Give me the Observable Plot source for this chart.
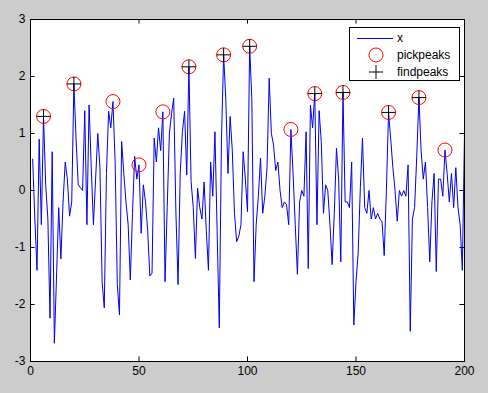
<!DOCTYPE html>
<html><head><meta charset="utf-8">
<script src="https://cdn.jsdelivr.net/npm/d3@7"></script>
<script src="https://cdn.jsdelivr.net/npm/@observablehq/plot@0.6"></script>
<style>
html,body{margin:0;padding:0;background:#cccccc;}
#chart{position:relative;width:488px;height:393px;}
</style></head><body><div id="chart"></div>
<script>
const xValues = [
 0.55,-0.5,-1.4,0.9,-0.6,1.3,0.1,-0.5,-2.24,0.68,-2.68,-1.5,-0.3,-1.2,-0.2,0.5,0.2,-0.45,-0.2,1.87,0.9,0.1,0.05,0.0,1.4,-0.6,1.5,0.4,-0.6,0.2,1.0,0.4,-1.6,-2.06,
 0.3,1.39,1.1,1.56,0.5,-1.65,-2.18,0.86,0.3,-0.2,-0.6,-1.57,-0.4,0.6,0.2,0.45,-0.75,0.1,-0.2,-0.7,-1.5,-1.45,0.92,0.5,1.1,0.7,1.38,-1.6,-0.3,1.0,1.35,1.62,
 -0.37,-1.65,0.3,1.03,1.39,0.27,2.17,0.16,-0.3,-1.19,0.04,-0.3,-0.5,0.15,-0.7,-1.4,0.5,-0.1,1.03,-0.7,-2.41,0.9,2.38,1.6,0.3,1.3,0.7,-0.4,-0.9,-0.8,-0.6,0.68,0.2,-0.37,2.53,
 1.6,-1.6,-0.6,-0.1,0.57,-0.4,-0.1,0.4,1.97,1.0,0.8,0.35,0.5,0.0,-0.3,-0.2,-0.25,-0.6,1.07,0.3,-0.6,-1.47,-0.2,0.0,-0.1,1.03,-1.37,1.5,1.1,1.7,-0.6,
 1.4,0.86,-0.4,0.1,0.0,-0.6,-1.3,-0.4,0.74,0.2,-1.25,1.72,-0.2,-0.2,-0.3,0.5,-2.36,-1.6,-1.1,0.05,0.92,-0.3,-0.4,0.0,-0.5,-0.3,-0.5,-0.4,-0.5,-0.55,-1.14,0.0,1.37,
 0.9,0.4,0.0,-0.54,0.0,-0.1,0.0,-0.1,0.45,-2.47,-0.5,-0.3,0.6,1.63,0.7,0.2,0.5,-0.3,-1.25,-0.2,0.3,-1.42,0.2,0.2,-0.1,0.71,0.3,-0.2,0.3,-0.3,0.4,-0.3,-0.6,-1.4,1.0
];
const pickIdx = [6,20,38,50,61,73,89,101,120,131,144,165,179,191];
const findIdx = [6,20,73,89,101,131,144,165,179];
const xTicks = [0,50,100,150,200];
const yTicks = [-3,-2,-1,0,1,2,3];
const legendLabels = ["x","pickpeaks","findpeaks"];

const series = xValues.map((v,i)=>({t:i+1, v}));
const pick = pickIdx.map(t=>({t, v:xValues[t-1]}));
const find = findIdx.map(t=>({t, v:xValues[t-1]}));

const crossSymbol = {draw(ctx,size){const r=Math.sqrt(size/Math.PI); ctx.moveTo(-r,0);ctx.lineTo(r,0);ctx.moveTo(0,-r);ctx.lineTo(0,r);}};

const tx = 2.1, ty = 0.08;
const font = "'Liberation Sans', Arial, Helvetica, sans-serif";
const plot = Plot.plot({
  width:488, height:393, marginLeft:30, marginRight:24, marginTop:19, marginBottom:32,
  style:{background:"#cccccc", fontFamily:font, fontSize:"12px", color:"black"},
  x:{domain:[0,200]}, y:{domain:[-3,3]},
  marks:[
    Plot.frame({fill:"white", stroke:null}),
    Plot.axisX(xTicks, {tickSize:0, tickPadding:5, label:null, tickFormat:d=>`${d}`}),
    Plot.axisY(yTicks, {tickSize:0, tickPadding:5, label:null, tickFormat:d=>`${d}`}),
    Plot.ruleX(xTicks, {x:d=>d, y1:-3, y2:-3+ty, stroke:"black"}),
    Plot.ruleX(xTicks, {x:d=>d, y1:3, y2:3-ty, stroke:"black"}),
    Plot.ruleY(yTicks, {y:d=>d, x1:0, x2:tx, stroke:"black"}),
    Plot.ruleY(yTicks, {y:d=>d, x1:200, x2:200-tx, stroke:"black"}),
    Plot.line(series, {x:"t", y:"v", stroke:"#0000f0", strokeWidth:1}),
    Plot.dot(pick, {x:"t", y:"v", r:7, stroke:"#ff0000", fill:"none", strokeWidth:1}),
    Plot.dot(find, {x:"t", y:"v", r:7, symbol:crossSymbol, stroke:"black", strokeWidth:1}),
    Plot.frame({stroke:"black"})
  ]
});
document.getElementById("chart").appendChild(plot);

// legend
const svg = d3.select(plot);
const lg = svg.append("g").attr("font-family", font).attr("font-size", 12).attr("text-anchor","start");
lg.append("rect").attr("x",349.5).attr("y",27.5).attr("width",110).attr("height",53)
  .attr("fill","white").attr("stroke","black");
const rows = [38, 55, 72];
legendLabels.forEach((lab,i)=>{
  const y = rows[i];
  if (i===0) lg.append("line").attr("x1",357).attr("x2",393).attr("y1",y+0.5).attr("y2",y+0.5).attr("stroke","#0000f0");
  if (i===1) lg.append("circle").attr("cx",376).attr("cy",y).attr("r",7).attr("fill","none").attr("stroke","#ff0000");
  if (i===2) lg.append("path").attr("d",`M369,${y}H383M376,${y-7}V${y+7}`).attr("stroke","black");
  lg.append("text").attr("x",397).attr("y",y).attr("dy","0.35em").attr("fill","black").text(lab);
});
</script></body></html>
